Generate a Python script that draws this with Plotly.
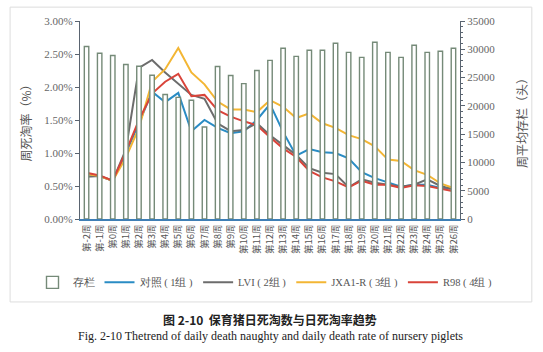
import plotly.graph_objects as go

weeks = ["第-2周", "第-1周", "第0周"] + [f"第{i}周" for i in range(1, 27)]

stock = [30500, 29300, 28900, 27300, 27000, 25400, 22000, 21500, 21000, 16250,
         26960, 25360, 23930, 26250, 28040, 30180, 28750, 29820, 29820, 31070,
         29460, 28570, 31250, 29460, 28570, 30710, 29460, 29640, 30180]

ctrl = [0.68, 0.65, 0.58, 1.00, 1.45, 1.93, 1.77, 1.91, 1.33, 1.50,
        1.38, 1.30, 1.33, 1.50, 1.74, 1.32, 0.96, 1.06, 1.01, 1.00,
        0.92, 0.71, 0.62, 0.56, 0.49, 0.52, 0.52, 0.47, 0.46]

lvi = [0.64, 0.65, 0.58, 1.05, 2.29, 2.41, 2.22, 2.05, 1.88, 1.82,
       1.45, 1.33, 1.35, 1.45, 1.27, 1.12, 0.97, 0.77, 0.70, 0.68,
       0.48, 0.60, 0.55, 0.52, 0.49, 0.52, 0.60, 0.50, 0.45]

jxa = [0.68, 0.65, 0.58, 0.93, 1.38, 2.08, 2.27, 2.59, 2.22, 2.04,
       1.78, 1.66, 1.66, 1.62, 1.80, 1.70, 1.53, 1.60, 1.45, 1.38,
       1.27, 1.21, 1.10, 0.90, 0.88, 0.74, 0.67, 0.54, 0.47]

r98 = [0.70, 0.66, 0.58, 1.02, 1.50, 1.90, 2.08, 2.20, 1.86, 1.88,
       1.65, 1.55, 1.48, 1.42, 1.24, 1.07, 0.94, 0.73, 0.63, 0.57,
       0.48, 0.58, 0.52, 0.52, 0.47, 0.51, 0.50, 0.46, 0.42]

series_names = ["对照 ( 1组 )", "LVI ( 2组 )", "JXA1-R ( 3组 )", "R98 ( 4组 )"]

serif = "Liberation Serif"
tickc = "#666666"

fig = go.Figure()
fig.add_trace(go.Bar(x=weeks, y=stock, name="存栏", yaxis="y2",
                     marker=dict(color="white", line=dict(color="#758a78", width=1.4)),
                     width=0.34))
for name, vals, col in zip(series_names, [ctrl, lvi, jxa, r98],
                           ["#2a8cc4", "#6c6c6c", "#f3b634", "#d9443a"]):
    fig.add_trace(go.Scatter(x=weeks, y=[v / 100 for v in vals], name=name,
                             mode="lines", line=dict(color=col, width=2)))

fig.update_layout(
    width=543, height=352,
    margin=dict(l=80, r=83, t=21, b=133),
    paper_bgcolor="white", plot_bgcolor="white",
    font=dict(family=serif, size=11, color=tickc),
    showlegend=True,
    legend=dict(orientation="h", x=-0.125, xanchor="left", y=-0.32, yanchor="middle",
                font=dict(family=serif, size=10.5, color="#555555"),
                itemwidth=30, tracegroupgap=0),
    bargap=0.5,
    xaxis=dict(type="category", tickangle=-90, showgrid=False,
               showline=True, linecolor="#3f7fb5", linewidth=1.5,
               ticks="", tickfont=dict(size=9.5, color="#555555", family="Noto Sans CJK SC"),
               range=[-0.5, 28.5]),
    yaxis=dict(range=[0, 0.03], dtick=0.005, tickformat=".2%", showgrid=False,
               showline=True, linecolor="#5a6470", linewidth=1.2,
               ticks="outside", ticklen=4, tickcolor="#5a6470",
               tickfont=dict(size=11, color=tickc, family=serif),
               title=dict(text="周死淘率（%）", font=dict(size=12, color="#555555", family="Noto Sans CJK SC"),
                          standoff=10)),
    yaxis2=dict(range=[0, 35000], dtick=5000, tickformat="d", overlaying="y", side="right", showgrid=False,
                showline=True, linecolor="#5a6470", linewidth=1.2,
                ticks="outside", ticklen=4, tickcolor="#5a6470",
                minor=dict(ticks="outside", ticklen=2, dtick=1000, tickcolor="#5a6470"),
                tickfont=dict(size=11, color=tickc, family=serif),
                title=dict(text="周平均存栏（头）", font=dict(size=12, color="#555555", family="Noto Sans CJK SC"),
                           standoff=24)),
)

fig.add_shape(type="rect", xref="paper", yref="paper",
              x0=-0.184, x1=1.189, y0=-0.419, y1=1.07,
              line=dict(color="#dddddd", width=1), layer="below")

fig.add_annotation(text="<b>图 2-10  保育猪日死淘数与日死淘率趋势</b>", xref="paper", yref="paper",
                   x=0.5, y=-0.51, xanchor="center", yanchor="middle", showarrow=False,
                   font=dict(family="Noto Sans CJK SC", size=12, color="#222222"))
fig.add_annotation(text="Fig. 2-10 Thetrend of daily death naughty and daily death rate of nursery piglets",
                   xref="paper", yref="paper",
                   x=0.5, y=-0.59, xanchor="center", yanchor="middle", showarrow=False,
                   font=dict(family="Liberation Serif", size=12, color="#222222"))

fig.write_html("out.html")
